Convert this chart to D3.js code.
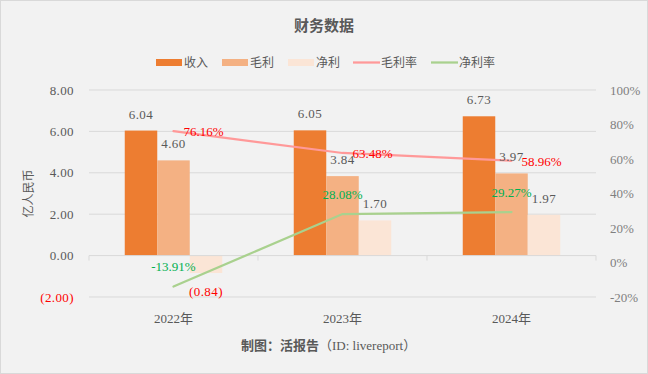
<!DOCTYPE html>
<html><head><meta charset="utf-8">
<script src="https://cdn.jsdelivr.net/npm/d3@7"></script>
<style>
html,body{margin:0;padding:0;background:#fff;}
svg{display:block;}
text{font-family:"Liberation Serif","Noto Sans CJK SC",serif;}
</style></head>
<body>
<script>
const categories = ["2022年","2023年","2024年"];
const revenue = [6.04, 6.05, 6.73];
const grossProfit = [4.60, 3.84, 3.97];
const netProfit = [-0.84, 1.70, 1.97];
const grossMargin = [76.16, 63.48, 58.96];
const netMargin = [-13.91, 28.08, 29.27];
const leftTicks = [-2, 0, 2, 4, 6, 8];
const rightTicks = [-20, 0, 20, 40, 60, 80, 100];
const barSeries = ["收入","毛利","净利"];
const lineSeries = ["毛利率","净利率"];

const W = 648, H = 374;
const svg = d3.select("body").append("svg").attr("width", W).attr("height", H);
svg.append("rect").attr("x",0.5).attr("y",0.5).attr("width",W-1).attr("height",H-1)
  .attr("fill","#F2F2F2").attr("stroke","#D9D9D9");

const grey = "#595959";
const barColors = ["#ED7D31","#F4B183","#FBE5D6"];
const lineColors = ["#FF9999","#A9D18E"];
const lineLabelColors = ["#FF0000","#00B050"];

const x0 = d3.scaleBand().domain(categories).range([89, 596]).padding(0);
const x1 = d3.scaleBand().domain(barSeries).range([-48.75, 48.75]).padding(0);
const yL = d3.scaleLinear().domain([-2, 8]).range([297, 90]);
const yR = d3.scaleLinear().domain([-20, 100]).range([297, 90]);

const f2 = d => d3.format(".2f")(d).replace("\u2212", "-");
const fmt = d => d < 0 ? "(" + f2(-d) + ")" : f2(d);

// title
svg.append("text").attr("x", 324).attr("y", 31).attr("text-anchor","middle")
  .attr("font-size", 15).attr("font-weight","bold").attr("fill", grey)
  .style("font-family","'Noto Sans CJK SC'").text("财务数据");

// gridlines
svg.append("g").selectAll("line").data(leftTicks.filter(d => d !== 0)).join("line")
  .attr("x1", 89).attr("x2", 596).attr("y1", d => yL(d)).attr("y2", d => yL(d))
  .attr("stroke", "#D9D9D9").attr("stroke-width", 1);

// left axis
const gL = svg.append("g").attr("transform","translate(89,0)")
  .call(d3.axisLeft(yL).tickValues(leftTicks).tickFormat(fmt).tickSize(0).tickPadding(15));
gL.select(".domain").remove();
gL.selectAll("text").attr("font-size", 13).attr("letter-spacing", 0.4)
  .attr("fill", d => d < 0 ? "#FF0000" : grey)
  .style("font-family","'Liberation Serif'");

// right axis
const gR = svg.append("g").attr("transform","translate(596,0)")
  .call(d3.axisRight(yR).tickValues(rightTicks).tickFormat(d => String(d).replace("\u2212","-") + "%").tickSize(0).tickPadding(14));
gR.select(".domain").remove();
gR.selectAll("text").attr("font-size", 13).attr("fill", "#7F7F7F")
  .style("font-family","'Liberation Serif'");

// y axis title
svg.append("text").attr("transform", `translate(33,${(90+297)/2}) rotate(-90)`)
  .attr("text-anchor","middle").attr("font-size", 12).attr("fill", grey)
  .style("font-family","'Noto Sans CJK SC'").text("亿人民币");

// bars
const barData = [revenue, grossProfit, netProfit];
const gBars = svg.append("g");
categories.forEach((c, i) => {
  barSeries.forEach((s, j) => {
    const v = barData[j][i];
    gBars.append("rect")
      .attr("x", x0(c) + x0.bandwidth()/2 + x1(s))
      .attr("width", x1.bandwidth())
      .attr("y", yL(Math.max(0, v)))
      .attr("height", Math.abs(yL(v) - yL(0)))
      .attr("fill", barColors[j]);
  });
});

// x axis at zero
const gX = svg.append("g").attr("transform", `translate(0,${yL(0)})`);
gX.append("line").attr("x1", 89).attr("x2", 596).attr("stroke", "#D9D9D9");
gX.selectAll("line.tk").data(d3.range(categories.length + 1)).join("line").attr("class","tk")
  .attr("x1", i => 89 + i * x0.bandwidth()).attr("x2", i => 89 + i * x0.bandwidth())
  .attr("y1", 0).attr("y2", 5).attr("stroke", "#D9D9D9");

// x labels
svg.append("g").selectAll("text").data(categories).join("text")
  .attr("x", d => x0(d) + x0.bandwidth()/2).attr("y", 323)
  .attr("text-anchor","middle").attr("font-size", 13).attr("fill", grey).text(d => d);

// lines
const lineData = [grossMargin, netMargin];
const line = d3.line().x((d, i) => x0(categories[i]) + x0.bandwidth()/2).y(d => yR(d));
lineData.forEach((arr, k) => {
  svg.append("path").datum(arr).attr("d", line).attr("fill","none")
    .attr("stroke", lineColors[k]).attr("stroke-width", 2.25).attr("stroke-linecap","round");
});

// bar labels
const gBL = svg.append("g");
categories.forEach((c, i) => {
  barSeries.forEach((s, j) => {
    const v = barData[j][i];
    const cx = x0(c) + x0.bandwidth()/2 + x1(s) + x1.bandwidth()/2;
    gBL.append("text").attr("x", cx)
      .attr("y", v >= 0 ? yL(v) - 12 : yL(v) + 23)
      .attr("text-anchor","middle").attr("font-size", 13).attr("letter-spacing", 0.4)
      .attr("fill", v < 0 ? "#FF0000" : grey).text(fmt(v));
  });
});

// line labels
categories.forEach((c, i) => {
  const cx = x0(c) + x0.bandwidth()/2;
  svg.append("text").attr("x", cx + 10).attr("y", yR(grossMargin[i]) + 5)
    .attr("text-anchor","start").attr("font-size", 13).attr("fill", lineLabelColors[0])
    .text(f2(grossMargin[i]) + "%");
  svg.append("text").attr("x", cx).attr("y", yR(netMargin[i]) - 15)
    .attr("text-anchor","middle").attr("font-size", 13).attr("fill", lineLabelColors[1])
    .text(f2(netMargin[i]) + "%");
});

// legend
const legend = svg.append("g").attr("font-size", 12);
const legendItems = [
  {name: barSeries[0], type: "rect", color: barColors[0], x: 156},
  {name: barSeries[1], type: "rect", color: barColors[1], x: 222},
  {name: barSeries[2], type: "rect", color: barColors[2], x: 288},
  {name: lineSeries[0], type: "line", color: lineColors[0], x: 353},
  {name: lineSeries[1], type: "line", color: lineColors[1], x: 431}
];
legendItems.forEach(it => {
  if (it.type === "rect") {
    legend.append("rect").attr("x", it.x).attr("y", 59).attr("width", 26).attr("height", 7).attr("fill", it.color);
  } else {
    legend.append("line").attr("x1", it.x).attr("x2", it.x + 27).attr("y1", 62.5).attr("y2", 62.5)
      .attr("stroke", it.color).attr("stroke-width", 2.25);
  }
  legend.append("text").attr("x", it.x + 28).attr("y", 67).attr("fill", grey)
    .style("font-family","'Noto Sans CJK SC'").text(it.name);
});

// footer
const ft = svg.append("text").attr("x", 241).attr("y", 350).attr("font-size", 13).attr("fill", grey);
ft.append("tspan").attr("font-weight","bold").style("font-family","'Noto Sans CJK SC'").text("制图：活报告");
ft.append("tspan").style("font-family","'Noto Sans CJK SC'").text("（");
ft.append("tspan").style("font-family","'Liberation Serif'").text("ID: livereport");
ft.append("tspan").style("font-family","'Noto Sans CJK SC'").text("）");
</script>
</body></html>
